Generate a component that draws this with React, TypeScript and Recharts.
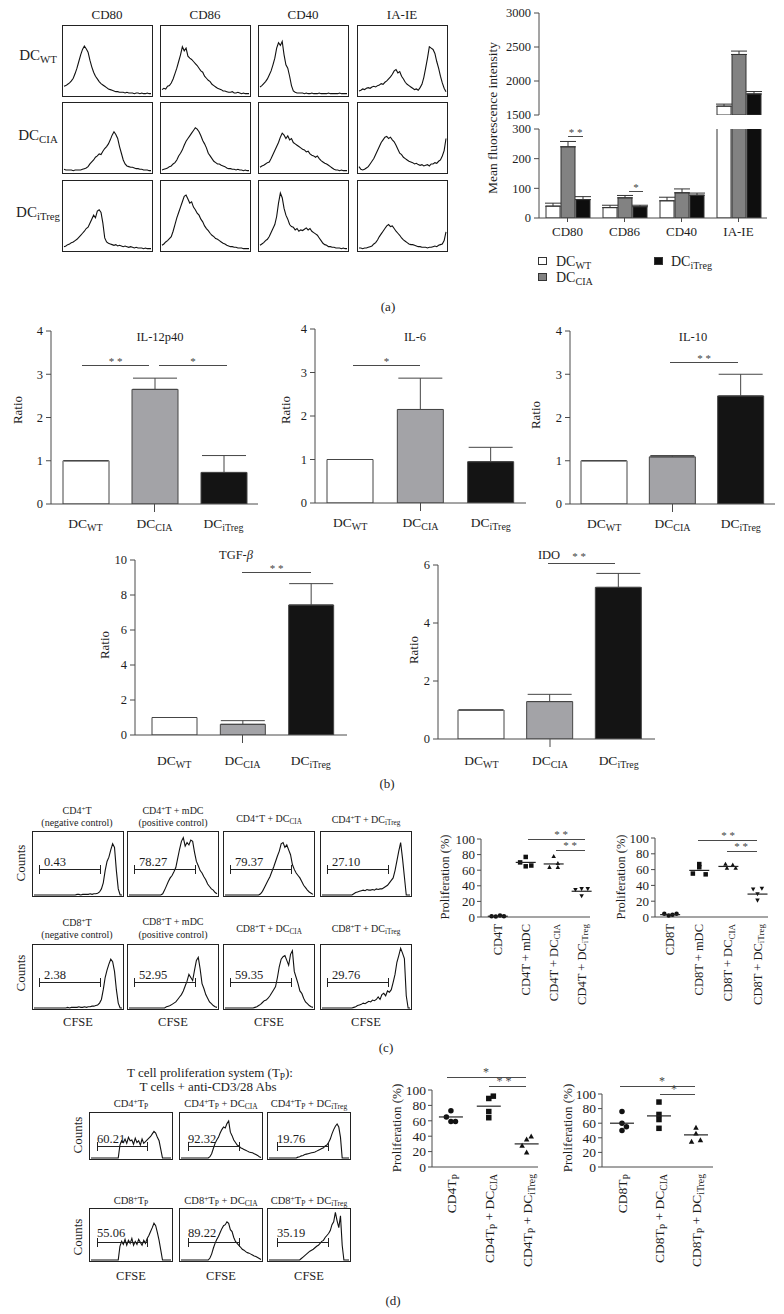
import React from 'react';
import {
  BarChart, Bar, XAxis, YAxis, ErrorBar, Cell,
  LineChart, Line, ScatterChart, Scatter,
} from 'recharts';

const SERIF = '"Liberation Serif", "DejaVu Serif", serif';
const INK = '#1d1d1d';
const AX = '#4a4a4a';

// (a) flow histograms, 48 bins each, height in % of the frame
const HA_WT_CD80 = [13, 14, 16, 18, 21, 25, 32, 40, 50, 60, 68, 73, 69, 64, 52, 42, 34, 28, 24, 20, 17, 15, 13, 11, 9, 8, 7, 6, 5, 5, 4, 4, 4, 3, 4, 3, 3, 3, 2, 3, 3, 2, 3, 2, 2, 3, 2, 2];
const HA_WT_CD86 = [8, 10, 9, 13, 14, 18, 24, 32, 40, 50, 60, 72, 66, 70, 58, 55, 53, 50, 47, 44, 40, 36, 34, 28, 25, 22, 20, 16, 14, 12, 10, 9, 8, 6, 6, 5, 4, 4, 5, 3, 3, 4, 3, 2, 3, 2, 2, 2];
const HA_WT_CD40 = [12, 14, 17, 20, 24, 30, 36, 45, 55, 70, 78, 74, 80, 60, 45, 40, 28, 14, 6, 4, 3, 3, 3, 3, 2, 3, 2, 2, 3, 2, 2, 2, 3, 2, 2, 2, 2, 3, 2, 2, 2, 2, 2, 3, 2, 2, 2, 2];
const HA_WT_IAIE = [6, 7, 9, 8, 10, 11, 10, 12, 13, 12, 14, 15, 17, 16, 19, 21, 24, 27, 31, 36, 38, 33, 35, 28, 24, 19, 16, 14, 12, 10, 8, 9, 7, 11, 16, 26, 40, 55, 72, 70, 68, 62, 50, 40, 28, 18, 10, 5];
const HA_CIA_CD80 = [4, 3, 3, 3, 3, 2, 3, 3, 3, 3, 4, 5, 6, 8, 12, 15, 18, 22, 24, 27, 26, 31, 35, 38, 42, 48, 55, 60, 56, 50, 38, 28, 18, 12, 9, 8, 7, 7, 6, 5, 5, 4, 4, 3, 3, 3, 2, 2];
const HA_CIA_CD86 = [3, 4, 5, 6, 8, 9, 12, 14, 18, 24, 28, 33, 40, 46, 50, 54, 58, 62, 66, 64, 60, 54, 47, 42, 36, 28, 24, 20, 16, 14, 12, 12, 10, 9, 8, 6, 5, 5, 4, 4, 3, 4, 3, 3, 2, 3, 2, 2];
const HA_CIA_CD40 = [7, 9, 10, 12, 14, 15, 20, 26, 32, 38, 44, 52, 58, 55, 50, 54, 48, 50, 44, 42, 40, 38, 36, 34, 33, 30, 31, 27, 25, 24, 22, 24, 20, 17, 15, 13, 12, 10, 8, 6, 4, 3, 3, 2, 3, 2, 2, 2];
const HA_CIA_IAIE = [8, 4, 3, 4, 6, 8, 12, 16, 20, 26, 32, 38, 44, 48, 52, 53, 50, 52, 48, 45, 40, 34, 28, 26, 22, 20, 18, 16, 15, 14, 12, 13, 11, 10, 11, 9, 10, 11, 9, 12, 12, 14, 13, 16, 18, 24, 32, 50];
const HA_TREG_CD80 = [5, 6, 8, 9, 11, 12, 14, 16, 19, 22, 25, 28, 32, 34, 40, 46, 52, 48, 58, 60, 56, 40, 18, 12, 10, 9, 8, 7, 8, 6, 7, 6, 5, 6, 5, 4, 5, 4, 3, 4, 3, 3, 3, 2, 3, 2, 2, 2];
const HA_TREG_CD86 = [7, 9, 12, 14, 17, 20, 28, 38, 48, 56, 64, 72, 80, 82, 76, 70, 72, 64, 60, 55, 52, 46, 42, 36, 32, 29, 25, 22, 20, 17, 16, 14, 12, 10, 9, 7, 6, 5, 5, 4, 4, 3, 3, 3, 2, 2, 2, 2];
const HA_TREG_CD40 = [7, 9, 11, 14, 16, 20, 26, 32, 38, 50, 70, 85, 78, 62, 52, 46, 38, 35, 34, 30, 32, 28, 30, 29, 31, 33, 30, 32, 28, 26, 24, 22, 18, 14, 10, 8, 7, 5, 5, 4, 4, 3, 3, 3, 2, 3, 2, 2];
const HA_TREG_IAIE = [3, 3, 2, 3, 3, 4, 5, 6, 9, 11, 15, 20, 24, 28, 32, 36, 38, 35, 36, 32, 28, 25, 22, 18, 15, 13, 11, 9, 8, 8, 7, 6, 5, 5, 4, 4, 4, 3, 4, 4, 5, 6, 5, 7, 8, 9, 14, 27];

// (a) mean fluorescence intensity
const MARKERS = ['CD80', 'CD86', 'CD40', 'IA-IE'];
const MFI_WT = [40, 35, 58, 1630];
const MFI_WT_SD = [10, 8, 12, 30];
const MFI_CIA = [240, 68, 85, 2390];
const MFI_CIA_SD = [18, 8, 13, 50];
const MFI_TREG = [62, 38, 77, 1810];
const MFI_TREG_SD = [10, 5, 7, 35];

// (b) cytokine ratios
const DC_GROUPS = ['WT', 'CIA', 'iTreg'];
const IL12 = [1, 2.65, 0.73];
const IL12_SD = [0, 0.26, 0.39];
const IL6 = [1, 2.15, 0.95];
const IL6_SD = [0, 0.72, 0.33];
const IL10 = [1, 1.09, 2.5];
const IL10_SD = [0, 0.03, 0.5];
const TGFB = [1, 0.61, 7.43];
const TGFB_SD = [0, 0.21, 1.22];
const IDO = [1, 1.29, 5.23];
const IDO_SD = [0, 0.25, 0.48];

// (c) CFSE histograms
const HC_CD4_NEG = [0, 0, 0, 0, 0, 0, 0, 0, 0, 0, 0, 0, 0, 0, 0, 0, 0, 0, 0, 0, 0, 0, 0, 1, 1, 0, 1, 1, 1, 1, 2, 1, 2, 2, 3, 5, 10, 20, 40, 55, 62, 74, 84, 78, 40, 10, 0, 0];
const HC_CD4_MDC = [0, 0, 0, 0, 0, 0, 0, 0, 0, 0, 0, 0, 0, 0, 0, 0, 0, 0, 2, 8, 15, 22, 28, 32, 38, 45, 60, 75, 88, 94, 80, 86, 82, 90, 88, 70, 55, 48, 40, 36, 30, 25, 18, 14, 10, 8, 4, 2];
const HC_CD4_CIA = [0, 0, 0, 0, 0, 0, 0, 0, 0, 0, 0, 0, 0, 0, 0, 0, 0, 0, 0, 2, 6, 12, 18, 24, 30, 38, 46, 55, 64, 72, 84, 86, 78, 82, 74, 66, 50, 42, 36, 32, 28, 22, 16, 12, 8, 5, 3, 1];
const HC_CD4_TREG = [0, 0, 0, 0, 0, 0, 0, 0, 0, 0, 0, 0, 0, 0, 0, 0, 0, 2, 4, 5, 6, 7, 8, 7, 9, 8, 8, 9, 8, 10, 9, 10, 10, 12, 14, 16, 20, 24, 28, 40, 56, 72, 86, 60, 30, 0, 0, 0];
const HC_CD8_NEG = [0, 0, 0, 0, 0, 0, 0, 0, 0, 0, 0, 0, 0, 0, 0, 0, 0, 0, 1, 0, 1, 1, 1, 1, 2, 1, 1, 2, 1, 2, 2, 3, 3, 4, 5, 8, 14, 30, 50, 62, 72, 80, 76, 60, 30, 8, 0, 0];
const HC_CD8_MDC = [0, 0, 0, 0, 0, 0, 0, 0, 0, 0, 0, 0, 0, 0, 0, 0, 0, 0, 0, 0, 2, 3, 4, 6, 8, 10, 14, 18, 22, 28, 36, 44, 55, 50, 45, 62, 78, 83, 64, 40, 32, 22, 16, 10, 7, 4, 2, 1];
const HC_CD8_CIA = [0, 0, 0, 0, 0, 0, 0, 0, 0, 0, 0, 0, 0, 0, 0, 0, 1, 2, 4, 6, 9, 12, 13, 16, 20, 25, 30, 35, 50, 68, 80, 84, 86, 78, 70, 88, 94, 60, 50, 40, 28, 24, 16, 10, 7, 4, 2, 1];
const HC_CD8_TREG = [0, 0, 0, 0, 0, 0, 0, 0, 0, 0, 0, 0, 0, 0, 0, 0, 0, 1, 2, 4, 5, 6, 8, 7, 9, 11, 10, 13, 12, 14, 18, 14, 22, 24, 20, 28, 26, 30, 42, 55, 75, 86, 98, 90, 81, 20, 0, 0];
const C_GATE_CD4 = ['0.43', '78.27', '79.37', '27.10'];
const C_GATE_CD8 = ['2.38', '52.95', '59.35', '29.76'];

// (c) proliferation dot plots
const C4_LABELS = [['CD4T'], ['CD4T + mDC'], ['CD4T + DC', 'CIA'], ['CD4T + DC', 'iTreg']];
const C4_VALUES = [[1, 0.5, 2, 1], [77, 70, 65, 66], [78, 69, 64, 64], [35, 36, 36, 27]];
const C4_JITTER = [[-0.22, -0.07, 0.08, 0.22], [0, -0.2, 0, 0.2], [0, 0.15, -0.15, 0.15], [-0.22, 0, 0.22, 0]];
const C4_MEDIAN = [1, 70, 68, 33];
const C8_LABELS = [['CD8T'], ['CD8T + mDC'], ['CD8T + DC', 'CIA'], ['CD8T + DC', 'iTreg']];
const C8_VALUES = [[4, 2, 3, 4], [67, 63, 55, 54], [67, 66, 62, 62], [35, 36, 29, 21]];
const C8_JITTER = [[-0.2, -0.05, 0.08, 0.22], [0, 0, -0.22, 0.22], [-0.1, 0.15, -0.05, 0.25], [-0.15, 0.15, 0, 0]];
const C8_MEDIAN = [3, 59, 64, 29];

// (d) T cell proliferation system
const HD_CD4 = [0, 0, 0, 0, 0, 0, 0, 0, 0, 0, 0, 0, 0, 0, 0, 0, 0, 30, 40, 36, 44, 34, 48, 40, 42, 32, 46, 36, 40, 30, 44, 34, 38, 42, 46, 50, 56, 62, 58, 48, 40, 20, 0, 0, 0, 0, 0, 0];
const HD_CD4_CIA = [0, 0, 0, 0, 0, 0, 0, 0, 0, 0, 0, 0, 0, 0, 0, 0, 0, 3, 10, 22, 34, 42, 48, 58, 66, 72, 70, 80, 86, 60, 52, 42, 36, 30, 28, 24, 22, 20, 18, 16, 14, 13, 12, 10, 8, 6, 3, 1];
const HD_CD4_TREG = [0, 0, 0, 0, 0, 0, 0, 0, 0, 0, 0, 0, 0, 0, 0, 0, 0, 2, 3, 5, 6, 8, 9, 10, 11, 12, 13, 14, 16, 18, 20, 22, 24, 28, 30, 36, 44, 56, 66, 74, 79, 72, 48, 0, 0, 0, 0, 0];
const HD_CD8 = [0, 0, 0, 0, 0, 0, 0, 0, 0, 0, 0, 0, 0, 0, 0, 0, 0, 28, 38, 32, 42, 30, 40, 34, 44, 30, 38, 32, 42, 36, 30, 40, 34, 44, 50, 58, 66, 75, 70, 56, 40, 20, 0, 0, 0, 0, 0, 0];
const HD_CD8_CIA = [0, 0, 0, 0, 0, 0, 0, 0, 0, 0, 0, 0, 0, 0, 0, 0, 0, 4, 12, 24, 34, 42, 48, 56, 64, 70, 72, 78, 75, 62, 58, 46, 38, 34, 30, 26, 22, 20, 17, 15, 14, 12, 10, 8, 7, 5, 3, 1];
const HD_CD8_TREG = [0, 0, 0, 0, 0, 0, 0, 0, 0, 0, 0, 0, 0, 0, 0, 0, 0, 0, 0, 3, 6, 9, 12, 15, 18, 20, 22, 25, 28, 30, 34, 38, 40, 46, 50, 54, 60, 72, 78, 97, 80, 66, 90, 30, 0, 0, 0, 0];
const D_GATE_CD4 = ['60.21', '92.32', '19.76'];
const D_GATE_CD8 = ['55.06', '89.22', '35.19'];
const D4_LABELS = [['CD4T', 'P'], ['CD4T', 'P', '\u00a0+ DC', 'CIA'], ['CD4T', 'P', '\u00a0+ DC', 'iTreg']];
const D4_VALUES = [[73, 65, 59, 59], [92, 89, 72, 64], [40, 36, 28, 19]];
const D4_JITTER = [[0, -0.12, 0, 0.12], [0.12, 0, 0, 0], [0.12, 0, -0.12, 0]];
const D4_MEDIAN = [65, 79, 30];
const D8_LABELS = [['CD8T', 'P'], ['CD8T', 'P', '\u00a0+ DC', 'CIA'], ['CD8T', 'P', '\u00a0+ DC', 'iTreg']];
const D8_VALUES = [[76, 60, 55, 50], [89, 72, 65, 53], [54, 46, 37, 35]];
const D8_JITTER = [[0, 0, 0.12, 0], [0, 0, 0, 0], [0, 0, 0.12, -0.12]];
const D8_MEDIAN = [60, 70, 44];

const DC_FILLS = ['#ffffff', '#a3a3a7', '#141414'];
const MFI_FILLS = ['#ffffff', '#828282', '#0e0e0e'];

const Sub = ({ children }: any) => (
  <span style={{ fontSize: '0.72em', position: 'relative', top: '0.3em' }}>{children}</span>
);
const Sup = ({ children }: any) => (
  <span style={{ fontSize: '0.7em', position: 'relative', top: '-0.45em' }}>{children}</span>
);

function Txt({ x, y, size = 13, rotate, anchor = 'middle', color, children }: any) {
  const tx = anchor === 'middle' ? '-50%' : anchor === 'end' ? '-100%' : '0';
  return (
    <div
      style={{
        position: 'absolute', left: x, top: y, fontSize: size, lineHeight: 1, whiteSpace: 'nowrap', color: color || INK,
        transform: `translate(${tx}, -50%)${rotate ? ` rotate(${rotate}deg)` : ''}`,
      }}
    >
      {children}
    </div>
  );
}

function Sig({ x1, x2, y, stars, sx, sy, size = 11 }: any) {
  return (
    <>
      <div style={{ position: 'absolute', left: x1, top: y, width: x2 - x1, borderTop: `1px solid ${AX}` }} />
      <Txt x={sx ?? (x1 + x2) / 2} y={sy ?? y - 4} size={size} color="#444">{stars}</Txt>
    </>
  );
}

function Histo({ x, y, w, h, bins }: any) {
  const rows = bins.map((v: number, i: number) => ({ i, v }));
  return (
    <div style={{ position: 'absolute', left: x, top: y, width: w, height: h, border: '1px solid #222', boxSizing: 'border-box' }}>
      <LineChart width={w - 2} height={h - 2} data={rows} margin={{ top: 2, right: 1, bottom: 1, left: 1 }}>
        <XAxis dataKey="i" type="number" domain={[0, bins.length - 1]} hide />
        <YAxis domain={[0, 100]} hide />
        <Line dataKey="v" type="linear" stroke="#111" strokeWidth={1.1} dot={false} isAnimationActive={false} />
      </LineChart>
    </div>
  );
}

function Gate({ x, y, x1, x2, gy, label, lx, ly, size }: any) {
  return (
    <>
      <div style={{ position: 'absolute', left: x + x1, top: y + gy, width: x2 - x1, borderTop: '1px solid #222' }} />
      <div style={{ position: 'absolute', left: x + x1, top: y + gy - 4, height: 9, borderLeft: '1px solid #222' }} />
      <div style={{ position: 'absolute', left: x + x2, top: y + gy - 4, height: 9, borderLeft: '1px solid #222' }} />
      <Txt x={x + lx} y={y + ly} size={size} anchor="start">{label}</Txt>
    </>
  );
}

function DcTick({ x, y, payload, index, dy }: any) {
  return (
    <g>
      {index === 1 && <line x1={x} x2={x} y1={y} y2={y + 8} stroke={AX} />}
      <text x={x} y={y + dy} textAnchor="middle" fontSize={13.5} fill={INK}>
        <tspan>DC</tspan>
        <tspan fontSize={10} dy={3}>{payload.value}</tspan>
      </text>
    </g>
  );
}

function RatioChart({ left, right, top, bottom, max, ticks, vals, sds, padL = 0, padR = 0, barSize, labelDy }: any) {
  const YW = 30, MT = 10, MR = 4, XH = 40;
  const rows = DC_GROUPS.map((g, i) => ({ g, v: vals[i], e: [0, sds[i]] }));
  return (
    <div style={{ position: 'absolute', left: left - YW, top: top - MT }}>
      <BarChart
        width={right - left + YW + MR}
        height={bottom - top + MT + XH}
        data={rows}
        margin={{ top: MT, right: MR, left: 0, bottom: 0 }}
        barSize={barSize}
      >
        <XAxis
          dataKey="g" padding={{ left: padL, right: padR }} height={XH} interval={0}
          axisLine={{ stroke: AX }} tickLine={false} tickSize={0} tickMargin={0}
          tick={(p: any) => <DcTick {...p} dy={labelDy} />}
        />
        <YAxis
          domain={[0, max]} ticks={ticks} interval={0} width={YW} tickSize={5} tickMargin={3}
          axisLine={{ stroke: AX }} tickLine={{ stroke: AX }} tick={{ fontSize: 12.5, fill: INK }} allowDataOverflow
        />
        <Bar dataKey="v" stroke="#454545" strokeWidth={1} isAnimationActive={false}>
          {rows.map((r, i) => <Cell key={r.g} fill={DC_FILLS[i]} />)}
          <ErrorBar dataKey="e" width={22} stroke="#454545" strokeWidth={1} direction="y" />
        </Bar>
      </BarChart>
    </div>
  );
}

function MfiBars() {
  const keys = [['wt', 'wtE'], ['cia', 'ciaE'], ['treg', 'tregE']];
  return keys.map(([k, e], i) => (
    <Bar key={k} dataKey={k} fill={MFI_FILLS[i]} stroke="#333" strokeWidth={1} isAnimationActive={false}>
      <ErrorBar dataKey={e} width={8} stroke="#333" strokeWidth={1} direction="y" />
    </Bar>
  ));
}

function MfiChart() {
  const YW = 45, MT = 10, MR = 6, XH = 30, MB = 8;
  const L = 539, R = 767;
  const rows = MARKERS.map((m, i) => ({
    m,
    wt: MFI_WT[i], wtE: [0, MFI_WT_SD[i]],
    cia: MFI_CIA[i], ciaE: [0, MFI_CIA_SD[i]],
    treg: MFI_TREG[i], tregE: [0, MFI_TREG_SD[i]],
  }));
  const upper = rows.map((r) => ({
    ...r,
    wt: r.wt >= 1500 ? r.wt : null,
    cia: r.cia >= 1500 ? r.cia : null,
    treg: r.treg >= 1500 ? r.treg : null,
  }));
  const yTick = { fontSize: 12.5, fill: INK };
  return (
    <>
      <div style={{ position: 'absolute', left: L - YW, top: 13 - MT }}>
        <BarChart width={R - L + YW + MR} height={115 - 13 + MT + MB} data={upper} margin={{ top: MT, right: MR, left: 0, bottom: MB }} barSize={14} barGap={1}>
          <XAxis dataKey="m" hide />
          <YAxis domain={[1500, 3000]} ticks={[1500, 2000, 2500, 3000]} interval={0} width={YW} tickSize={5} tickMargin={3}
            axisLine={{ stroke: AX }} tickLine={{ stroke: AX }} tick={yTick} allowDataOverflow />
          {MfiBars()}
        </BarChart>
      </div>
      <div style={{ position: 'absolute', left: L - YW, top: 129 - MT }}>
        <BarChart width={R - L + YW + MR} height={218 - 129 + MT + XH} data={rows} margin={{ top: MT, right: MR, left: 0, bottom: 0 }} barSize={14} barGap={1}>
          <XAxis dataKey="m" height={XH} interval={0} tickSize={4} tickMargin={5}
            axisLine={{ stroke: AX }} tickLine={{ stroke: AX }} tick={{ fontSize: 13, fill: INK }} />
          <YAxis domain={[0, 300]} ticks={[0, 100, 200, 300]} interval={0} width={YW} tickSize={5} tickMargin={3}
            axisLine={{ stroke: AX }} tickLine={{ stroke: AX }} tick={yTick} allowDataOverflow />
          {MfiBars()}
        </BarChart>
      </div>
    </>
  );
}

function Mark({ cx, cy, kind, s }: any) {
  if (cx == null || cy == null) return null;
  const h = s / 2;
  if (kind === 'circle') return <circle cx={cx} cy={cy} r={h} fill="#111" />;
  if (kind === 'square') return <rect x={cx - h} y={cy - h} width={s} height={s} fill="#111" />;
  if (kind === 'tri') return <path d={`M${cx},${cy - h}L${cx + h},${cy + h * 0.8}L${cx - h},${cy + h * 0.8}Z`} fill="#111" />;
  return <path d={`M${cx},${cy + h}L${cx + h},${cy - h * 0.8}L${cx - h},${cy - h * 0.8}Z`} fill="#111" />;
}

function RotTick({ x, y, payload, labels, size }: any) {
  const parts = labels[Math.round(payload.value)] || [];
  return (
    <text transform={`translate(${x},${y + 7}) rotate(-90)`} textAnchor="end" dominantBaseline="central" fontSize={size} fill={INK}>
      {parts.map((p: string, i: number) =>
        i % 2 === 1 ? (
          <tspan key={i} fontSize={size * 0.72} dy={size * 0.3}>{p}</tspan>
        ) : (
          <tspan key={i} dy={i === 0 ? 0 : -size * 0.3}>{p}</tspan>
        ),
      )}
    </text>
  );
}

function DotPlot({ left, right, top, bottom, domain, labels, vals, jit, meds, kinds, mark, half, lab, tickSize }: any) {
  const YW = 36, MT = 10, MR = 8, XH = 120;
  return (
    <div style={{ position: 'absolute', left: left - YW, top: top - MT }}>
      <ScatterChart width={right - left + YW + MR} height={bottom - top + MT + XH} margin={{ top: MT, right: MR, left: 0, bottom: 0 }}>
        <XAxis
          type="number" dataKey="x" domain={domain} ticks={labels.map((_: any, i: number) => i)} interval={0}
          height={XH} tickLine={false} tickSize={0} tickMargin={0} axisLine={{ stroke: AX }}
          tick={(p: any) => <RotTick {...p} labels={labels} size={lab} />}
        />
        <YAxis
          type="number" dataKey="y" domain={[0, 100]} ticks={[0, 20, 40, 60, 80, 100]} interval={0}
          width={YW} tickSize={4} tickMargin={2} axisLine={{ stroke: AX }} tickLine={{ stroke: AX }}
          tick={{ fontSize: tickSize, fill: INK }}
        />
        {vals.map((g: number[], gi: number) => (
          <Scatter
            key={gi}
            data={g.map((v, k) => ({ x: gi + jit[gi][k], y: v }))}
            shape={(p: any) => <Mark {...p} kind={kinds[gi]} s={mark} />}
            isAnimationActive={false}
          />
        ))}
        <Scatter
          data={meds.map((m: number, gi: number) => ({ x: gi, y: m }))}
          shape={(p: any) => <line x1={p.cx - half} x2={p.cx + half} y1={p.cy} y2={p.cy} stroke="#222" strokeWidth={1.2} />}
          isAnimationActive={false}
        />
      </ScatterChart>
    </div>
  );
}

export default function App() {
  const aCols = [62, 160, 258, 357];
  const aRows = [25, 102, 180];
  const aBins = [
    [HA_WT_CD80, HA_WT_CD86, HA_WT_CD40, HA_WT_IAIE],
    [HA_CIA_CD80, HA_CIA_CD86, HA_CIA_CD40, HA_CIA_IAIE],
    [HA_TREG_CD80, HA_TREG_CD86, HA_TREG_CD40, HA_TREG_IAIE],
  ];
  const aRowLabelY = [55, 135, 212];

  const cCols = [32, 127, 223, 320];
  const cRows = [831, 944];
  const cBins = [
    [HC_CD4_NEG, HC_CD4_MDC, HC_CD4_CIA, HC_CD4_TREG],
    [HC_CD8_NEG, HC_CD8_MDC, HC_CD8_CIA, HC_CD8_TREG],
  ];
  const cGates = [C_GATE_CD4, C_GATE_CD8];

  const dCols = [89, 179, 267];
  const dRows = [1112, 1208];
  const dH = [48, 54];
  const dBins = [
    [HD_CD4, HD_CD4_CIA, HD_CD4_TREG],
    [HD_CD8, HD_CD8_CIA, HD_CD8_TREG],
  ];
  const dGates = [D_GATE_CD4, D_GATE_CD8];

  return (
    <div style={{ position: 'absolute', left: 0, top: 0, width: 784, height: 1314, background: '#fff', fontFamily: SERIF, color: INK, overflow: 'hidden' }}>
      {/* (a) histograms */}
      {MARKERS.map((m, ci) => (
        <Txt key={m} x={aCols[ci] + 45} y={14} size={13}>{m}</Txt>
      ))}
      {DC_GROUPS.map((g, ri) => (
        <Txt key={g} x={38} y={aRowLabelY[ri]} size={15}>DC<Sub>{g}</Sub></Txt>
      ))}
      {aBins.map((row, ri) => row.map((bins, ci) => (
        <Histo key={`a${ri}${ci}`} x={aCols[ci]} y={aRows[ri]} w={91} h={72} bins={bins} />
      )))}

      {/* (a) MFI bars */}
      <MfiChart />
      <Txt x={493} y={118} size={13.5} rotate={-90}>Mean fluorescence intensity</Txt>
      <Sig x1={568} x2={583} y={136} stars="* *" size={11} />
      <Sig x1={629} x2={643} y={191} stars="*" size={11} />
      <div style={{ position: 'absolute', left: 538, top: 257, width: 9, height: 8, border: '1px solid #333', background: MFI_FILLS[0], boxSizing: 'border-box' }} />
      <Txt x={556} y={262} size={14} anchor="start">DC<Sub>WT</Sub></Txt>
      <div style={{ position: 'absolute', left: 538, top: 273, width: 9, height: 8, border: '1px solid #333', background: MFI_FILLS[1], boxSizing: 'border-box' }} />
      <Txt x={556} y={278} size={14} anchor="start">DC<Sub>CIA</Sub></Txt>
      <div style={{ position: 'absolute', left: 654, top: 257, width: 9, height: 8, border: '1px solid #333', background: MFI_FILLS[2], boxSizing: 'border-box' }} />
      <Txt x={671} y={262} size={14} anchor="start">DC<Sub>iTreg</Sub></Txt>
      <Txt x={388} y={306} size={13}>(a)</Txt>

      {/* (b) cytokine ratios */}
      <RatioChart left={51} right={258} top={331} bottom={504} max={4} ticks={[0, 1, 2, 3, 4]} vals={IL12} sds={IL12_SD} barSize={46} labelDy={24} />
      <RatioChart left={315} right={526} top={329} bottom={503} max={4} ticks={[0, 1, 2, 3, 4]} vals={IL6} sds={IL6_SD} barSize={46} labelDy={24} />
      <RatioChart left={570} right={775} top={331} bottom={504} max={4} ticks={[0, 1, 2, 3, 4]} vals={IL10} sds={IL10_SD} barSize={46} labelDy={24} />
      <RatioChart left={135} right={347} top={560} bottom={735} max={10} ticks={[0, 2, 4, 6, 8, 10]} vals={TGFB} sds={TGFB_SD} padL={5} padR={2} barSize={45} labelDy={30} />
      <RatioChart left={438} right={655} top={565} bottom={739} max={6} ticks={[0, 2, 4, 6]} vals={IDO} sds={IDO_SD} padL={9} padR={2} barSize={46} labelDy={26} />

      <Txt x={160} y={337} size={12.5}>IL-12p40</Txt>
      <Txt x={415} y={337} size={12.5}>IL-6</Txt>
      <Txt x={693} y={337} size={12.5}>IL-10</Txt>
      <Txt x={236} y={555} size={12.5}>TGF-<i>β</i></Txt>
      <Txt x={549} y={555} size={12.5}>IDO</Txt>
      <Txt x={17} y={410} size={13} rotate={-90}>Ratio</Txt>
      <Txt x={285} y={410} size={13} rotate={-90}>Ratio</Txt>
      <Txt x={535} y={415} size={13} rotate={-90}>Ratio</Txt>
      <Txt x={104} y={645} size={13} rotate={-90}>Ratio</Txt>
      <Txt x={413} y={650} size={13} rotate={-90}>Ratio</Txt>
      <Sig x1={82} x2={149} y={365} stars="* *" />
      <Sig x1={159} x2={227} y={365} stars="*" />
      <Sig x1={353} x2={420} y={365} stars="*" />
      <Sig x1={670} x2={738} y={362} stars="* *" />
      <Sig x1={242} x2={311} y={572} stars="* *" />
      <Sig x1={548} x2={615} y={563} stars="* *" sx={579} sy={556} />
      <Txt x={387} y={783} size={13}>(b)</Txt>

      {/* (c) CFSE histograms */}
      <Txt x={77} y={811} size={10}>CD4<Sup>+</Sup>T</Txt>
      <Txt x={77} y={823} size={10}>(negative control)</Txt>
      <Txt x={173} y={811} size={10}>CD4<Sup>+</Sup>T + mDC</Txt>
      <Txt x={173} y={823} size={10}>(positive control)</Txt>
      <Txt x={269} y={819} size={10}>CD4<Sup>+</Sup>T + DC<Sub>CIA</Sub></Txt>
      <Txt x={366} y={820} size={10}>CD4<Sup>+</Sup>T + DC<Sub>iTreg</Sub></Txt>
      <Txt x={77} y={923} size={10}>CD8<Sup>+</Sup>T</Txt>
      <Txt x={77} y={935} size={10}>(negative control)</Txt>
      <Txt x={173} y={922} size={10}>CD8<Sup>+</Sup>T + mDC</Txt>
      <Txt x={173} y={935} size={10}>(positive control)</Txt>
      <Txt x={269} y={929} size={10}>CD8<Sup>+</Sup>T + DC<Sub>CIA</Sub></Txt>
      <Txt x={366} y={929} size={10}>CD8<Sup>+</Sup>T + DC<Sub>iTreg</Sub></Txt>
      {cBins.map((row, ri) => row.map((bins, ci) => (
        <Histo key={`c${ri}${ci}`} x={cCols[ci]} y={cRows[ri]} w={92} h={66} bins={bins} />
      )))}
      {cGates.map((row, ri) => row.map((g, ci) => (
        <Gate key={`cg${ri}${ci}`} x={cCols[ci]} y={cRows[ri]} x1={7} x2={68} gy={38} label={g} lx={12} ly={31} size={12.5} />
      )))}
      <Txt x={20} y={863} size={13} rotate={-90}>Counts</Txt>
      <Txt x={20} y={973} size={13} rotate={-90}>Counts</Txt>
      {cCols.map((cx) => (
        <Txt key={cx} x={cx + 46} y={1022} size={12.5}>CFSE</Txt>
      ))}

      {/* (c) dot plots */}
      <DotPlot left={481} right={590} top={839} bottom={917} domain={[-0.6, 3.3]} labels={C4_LABELS} vals={C4_VALUES} jit={C4_JITTER} meds={C4_MEDIAN}
        kinds={['circle', 'square', 'tri', 'itri']} mark={4.5} half={10} lab={12.5} tickSize={13} />
      <DotPlot left={655} right={768} top={838} bottom={917} domain={[-0.52, 3.36]} labels={C8_LABELS} vals={C8_VALUES} jit={C8_JITTER} meds={C8_MEDIAN}
        kinds={['circle', 'square', 'tri', 'itri']} mark={4.5} half={10} lab={12.5} tickSize={13} />
      <Txt x={445} y={877} size={12.5} rotate={-90}>Proliferation (%)</Txt>
      <Txt x={621} y={877} size={12.5} rotate={-90}>Proliferation (%)</Txt>
      <Sig x1={528} x2={585} y={839} stars="* *" sx={561} sy={834} />
      <Sig x1={556} x2={585} y={850} stars="* *" sx={570} sy={845} />
      <Sig x1={698} x2={757} y={840} stars="* *" sx={728} sy={835} />
      <Sig x1={727} x2={757} y={851} stars="* *" sx={741} sy={846} />
      <Txt x={386} y={1047} size={13}>(c)</Txt>

      {/* (d) T cell proliferation system */}
      <Txt x={210} y={1073} size={13}>T cell proliferation system (T<Sub>P</Sub>):</Txt>
      <Txt x={208} y={1086} size={13}>T cells + anti-CD3/28 Abs</Txt>
      <Txt x={131} y={1104} size={10.5}>CD4<Sup>+</Sup>T<Sub>P</Sub></Txt>
      <Txt x={221} y={1104} size={10.5}>CD4<Sup>+</Sup>T<Sub>P</Sub> + DC<Sub>CIA</Sub></Txt>
      <Txt x={309} y={1104} size={10.5}>CD4<Sup>+</Sup>T<Sub>P</Sub> + DC<Sub>iTreg</Sub></Txt>
      <Txt x={131} y={1201} size={10.5}>CD8<Sup>+</Sup>T<Sub>P</Sub></Txt>
      <Txt x={221} y={1201} size={10.5}>CD8<Sup>+</Sup>T<Sub>P</Sub> + DC<Sub>CIA</Sub></Txt>
      <Txt x={309} y={1201} size={10.5}>CD8<Sup>+</Sup>T<Sub>P</Sub> + DC<Sub>iTreg</Sub></Txt>
      {dBins.map((row, ri) => row.map((bins, ci) => (
        <Histo key={`d${ri}${ci}`} x={dCols[ci]} y={dRows[ri]} w={84} h={dH[ri]} bins={bins} />
      )))}
      {dGates.map((row, ri) => row.map((g, ci) => (
        <Gate key={`dg${ri}${ci}`} x={dCols[ci]} y={dRows[ri]} x1={8 + ci} x2={58 + ci * 1.5} gy={34} label={g} lx={8 + ci} ly={ri === 0 ? 27 : 25} size={12.5} />
      )))}
      <Txt x={77} y={1135} size={13} rotate={-90}>Counts</Txt>
      <Txt x={77} y={1237} size={13} rotate={-90}>Counts</Txt>
      {dCols.map((cx) => (
        <Txt key={cx} x={cx + 42} y={1276} size={12.5}>CFSE</Txt>
      ))}

      <DotPlot left={432} right={538} top={1090} bottom={1167} domain={[-0.5, 2.3]} labels={D4_LABELS} vals={D4_VALUES} jit={D4_JITTER} meds={D4_MEDIAN}
        kinds={['circle', 'square', 'tri']} mark={5.5} half={12} lab={13.5} tickSize={13.5} />
      <DotPlot left={602} right={713} top={1094} bottom={1167} domain={[-0.54, 2.46]} labels={D8_LABELS} vals={D8_VALUES} jit={D8_JITTER} meds={D8_MEDIAN}
        kinds={['circle', 'square', 'tri']} mark={5.5} half={12} lab={13.5} tickSize={13.5} />
      <Txt x={396} y={1128} size={13} rotate={-90}>Proliferation (%)</Txt>
      <Txt x={567} y={1128} size={13} rotate={-90}>Proliferation (%)</Txt>
      <Sig x1={447} x2={526} y={1077} stars="*" sx={486} sy={1072} size={12} />
      <Sig x1={489} x2={526} y={1086} stars="* *" sx={504} sy={1081} size={12} />
      <Sig x1={620} x2={695} y={1086} stars="*" sx={662} sy={1081} size={12} />
      <Sig x1={660} x2={695} y={1094} stars="*" sx={674} sy={1089} size={12} />
      <Txt x={393} y={1300} size={13}>(d)</Txt>
    </div>
  );
}
